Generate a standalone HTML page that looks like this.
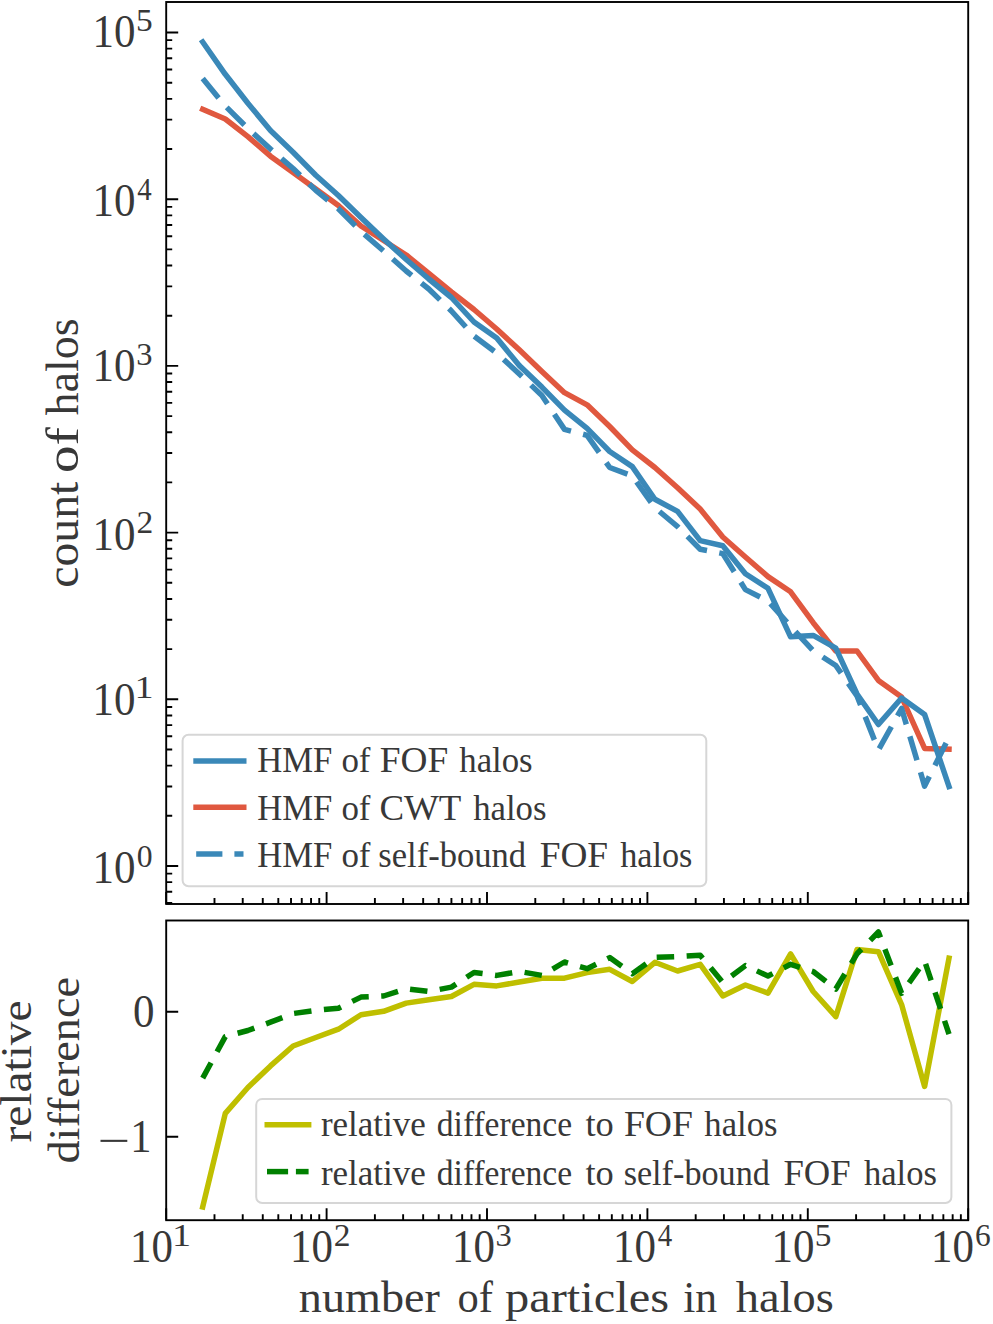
<!DOCTYPE html>
<html><head><meta charset="utf-8"><style>
html,body{margin:0;padding:0;background:#fff;}
svg{display:block;}
text{font-family:"Liberation Serif",serif;}
</style></head><body>
<svg width="993" height="1324" viewBox="0 0 993 1324">
<rect width="993" height="1324" fill="#fff"/>
<defs><clipPath id="ct"><rect x="166.2" y="2.0" width="802.0" height="902.0"/></clipPath><clipPath id="cb"><rect x="166.2" y="920.5" width="802.0" height="299.70000000000005"/></clipPath></defs><g clip-path="url(#ct)" fill="none" stroke-width="5.5" stroke-linejoin="round"><polyline points="202.7,109.4 225.3,119.0 247.9,136.6 270.5,156.2 293.1,172.5 315.8,189.0 338.4,205.5 361.0,226.0 383.6,240.5 406.2,255.0 428.8,273.5 451.4,292.0 474.0,309.5 496.7,329.0 519.3,349.8 541.9,371.5 564.5,392.7 587.1,404.8 609.7,426.5 632.3,449.8 654.9,467.5 677.6,487.8 700.2,509.0 722.8,537.0 745.4,557.0 768.0,576.6 790.6,591.8 813.2,622.7 835.8,651.0 857.0,651.0 878.4,680.4 901.6,697.0 924.6,748.4 949.0,749.2" stroke="#e0583f" stroke-linecap="square"/><polyline points="202.7,42.0 225.3,74.3 247.9,103.3 270.5,130.5 293.1,152.3 315.8,175.2 338.4,195.5 361.0,217.5 383.6,238.9 406.2,259.5 428.8,279.0 451.4,297.5 474.0,322.0 496.7,338.0 519.3,365.4 541.9,387.1 564.5,410.2 587.1,428.3 609.7,451.5 632.3,466.6 654.9,499.3 677.6,511.4 700.2,540.6 722.8,545.7 745.4,573.7 768.0,588.3 790.6,636.8 813.2,635.4 835.8,648.2 857.0,694.0 878.4,724.5 901.6,698.0 924.6,714.5 949.0,786.5" stroke="#3a88b8" stroke-linecap="square"/><polyline points="202.7,78.6 225.3,106.0 247.9,128.5 270.5,149.0 293.1,168.5 315.8,190.3 338.4,208.7 361.0,231.5 383.6,251.0 406.2,271.0 428.8,289.0 451.4,311.0 474.0,336.0 496.7,353.0 519.3,374.0 541.9,395.5 564.5,429.4 587.1,435.3 609.7,467.5 632.3,476.0 654.9,507.7 677.6,526.6 700.2,549.2 722.8,553.6 745.4,589.6 768.0,600.9 790.6,626.3 813.2,650.8 835.8,665.5 857.0,696.0 878.4,750.0 901.6,708.5 924.6,786.1 949.0,737.2" stroke="#3a88b8" stroke-dasharray="25 12.5"/></g><g clip-path="url(#cb)" fill="none" stroke-width="5.5" stroke-linejoin="round"><polyline points="202.7,1207.0 225.3,1113.4 247.9,1087.5 270.5,1065.9 293.1,1046.0 315.8,1037.5 338.4,1029.2 361.0,1014.8 383.6,1011.3 406.2,1003.1 428.8,999.8 451.4,996.5 474.0,984.3 496.7,985.9 519.3,982.0 541.9,978.2 564.5,978.2 587.1,972.6 609.7,969.3 632.3,981.5 654.9,962.3 677.6,971.0 700.2,964.3 722.8,995.9 745.4,985.0 768.0,993.1 790.6,953.8 813.2,991.5 835.8,1016.6 857.0,949.6 878.4,951.7 901.6,1004.6 924.6,1086.4 949.0,958.1" stroke="#bfbf00" stroke-linecap="square"/><polyline points="202.7,1078.1 225.3,1036.6 247.9,1030.5 270.5,1022.2 293.1,1013.5 315.8,1010.4 338.4,1008.2 361.0,997.1 383.6,996.0 406.2,988.7 428.8,991.5 451.4,987.1 474.0,972.5 496.7,975.4 519.3,971.5 541.9,975.4 564.5,962.0 587.1,968.7 609.7,957.6 632.3,973.7 654.9,957.4 677.6,956.6 700.2,955.2 722.8,982.6 745.4,965.6 768.0,976.0 790.6,964.3 813.2,971.5 835.8,989.0 857.0,953.8 878.4,932.0 901.6,993.3 924.6,960.9 949.0,1034.2" stroke="#008000" stroke-dasharray="17.5 12.5"/></g><path d="M166.20,904.0v-12 M214.49,904.0v-6 M242.73,904.0v-6 M262.77,904.0v-6 M278.31,904.0v-6 M291.02,904.0v-6 M301.75,904.0v-6 M311.06,904.0v-6 M319.26,904.0v-6 M326.60,904.0v-12 M374.89,904.0v-6 M403.13,904.0v-6 M423.17,904.0v-6 M438.71,904.0v-6 M451.42,904.0v-6 M462.15,904.0v-6 M471.46,904.0v-6 M479.66,904.0v-6 M487.00,904.0v-12 M535.29,904.0v-6 M563.53,904.0v-6 M583.57,904.0v-6 M599.11,904.0v-6 M611.82,904.0v-6 M622.55,904.0v-6 M631.86,904.0v-6 M640.06,904.0v-6 M647.40,904.0v-12 M695.69,904.0v-6 M723.93,904.0v-6 M743.97,904.0v-6 M759.51,904.0v-6 M772.22,904.0v-6 M782.95,904.0v-6 M792.26,904.0v-6 M800.46,904.0v-6 M807.80,904.0v-12 M856.09,904.0v-6 M884.33,904.0v-6 M904.37,904.0v-6 M919.91,904.0v-6 M932.62,904.0v-6 M943.35,904.0v-6 M952.66,904.0v-6 M960.86,904.0v-6 M968.20,904.0v-12 M166.20,1220.2v-12 M214.49,1220.2v-6 M242.73,1220.2v-6 M262.77,1220.2v-6 M278.31,1220.2v-6 M291.02,1220.2v-6 M301.75,1220.2v-6 M311.06,1220.2v-6 M319.26,1220.2v-6 M326.60,1220.2v-12 M374.89,1220.2v-6 M403.13,1220.2v-6 M423.17,1220.2v-6 M438.71,1220.2v-6 M451.42,1220.2v-6 M462.15,1220.2v-6 M471.46,1220.2v-6 M479.66,1220.2v-6 M487.00,1220.2v-12 M535.29,1220.2v-6 M563.53,1220.2v-6 M583.57,1220.2v-6 M599.11,1220.2v-6 M611.82,1220.2v-6 M622.55,1220.2v-6 M631.86,1220.2v-6 M640.06,1220.2v-6 M647.40,1220.2v-12 M695.69,1220.2v-6 M723.93,1220.2v-6 M743.97,1220.2v-6 M759.51,1220.2v-6 M772.22,1220.2v-6 M782.95,1220.2v-6 M792.26,1220.2v-6 M800.46,1220.2v-6 M807.80,1220.2v-12 M856.09,1220.2v-6 M884.33,1220.2v-6 M904.37,1220.2v-6 M919.91,1220.2v-6 M932.62,1220.2v-6 M943.35,1220.2v-6 M952.66,1220.2v-6 M960.86,1220.2v-6 M968.20,1220.2v-12 M166.2,902.98h6 M166.2,891.82h6 M166.2,882.15h6 M166.2,873.63h6 M166.2,866.00h12 M166.2,815.82h6 M166.2,786.46h6 M166.2,765.64h6 M166.2,749.48h6 M166.2,736.28h6 M166.2,725.12h6 M166.2,715.45h6 M166.2,706.93h6 M166.2,699.30h12 M166.2,649.12h6 M166.2,619.76h6 M166.2,598.94h6 M166.2,582.78h6 M166.2,569.58h6 M166.2,558.42h6 M166.2,548.75h6 M166.2,540.23h6 M166.2,532.60h12 M166.2,482.42h6 M166.2,453.06h6 M166.2,432.24h6 M166.2,416.08h6 M166.2,402.88h6 M166.2,391.72h6 M166.2,382.05h6 M166.2,373.53h6 M166.2,365.90h12 M166.2,315.72h6 M166.2,286.36h6 M166.2,265.54h6 M166.2,249.38h6 M166.2,236.18h6 M166.2,225.02h6 M166.2,215.35h6 M166.2,206.83h6 M166.2,199.20h12 M166.2,149.02h6 M166.2,119.66h6 M166.2,98.84h6 M166.2,82.68h6 M166.2,69.48h6 M166.2,58.32h6 M166.2,48.65h6 M166.2,40.13h6 M166.2,32.50h12 M166.2,1011.70h12 M166.2,1136.80h12" stroke="#000" stroke-width="1.9" fill="none"/><rect x="166.2" y="2.0" width="802.0" height="902.0" fill="none" stroke="#000" stroke-width="1.9"/><rect x="166.2" y="920.5" width="802.0" height="299.70000000000005" fill="none" stroke="#000" stroke-width="1.9"/><rect x="182.6" y="734.7" width="523.6999999999999" height="151.5" rx="6" ry="6" fill="#fff" fill-opacity="0.8" stroke="#d6d6d6" stroke-width="2"/><line x1="193.3" y1="760.9" x2="246.5" y2="760.9" stroke="#3a88b8" stroke-width="5.5"/><line x1="193.3" y1="807.2" x2="246.5" y2="807.2" stroke="#e0583f" stroke-width="5.5"/><line x1="196.2" y1="854" x2="222.4" y2="854" stroke="#3a88b8" stroke-width="5.5"/><line x1="234.4" y1="854" x2="243.5" y2="854" stroke="#3a88b8" stroke-width="5.5"/><rect x="256.2" y="1098.9" width="695.2" height="104.09999999999991" rx="6" ry="6" fill="#fff" fill-opacity="0.8" stroke="#d6d6d6" stroke-width="2"/><line x1="264.5" y1="1124.7" x2="311.4" y2="1124.7" stroke="#bfbf00" stroke-width="5.5"/><line x1="267" y1="1171.6" x2="288.1" y2="1171.6" stroke="#008000" stroke-width="5.5"/><line x1="295.9" y1="1171.6" x2="308.6" y2="1171.6" stroke="#008000" stroke-width="5.5"/><g font-family="Liberation Serif" fill="#383838"><text x="257.15" y="772.1" font-size="35.7" textLength="75.17" lengthAdjust="spacingAndGlyphs">HMF</text><text x="341.39" y="772.1" font-size="35.7" textLength="29.13" lengthAdjust="spacingAndGlyphs">of</text><text x="379.87" y="772.1" font-size="35.7" textLength="68.41" lengthAdjust="spacingAndGlyphs">FOF</text><text x="459.25" y="772.1" font-size="35.7" textLength="73.40" lengthAdjust="spacingAndGlyphs">halos</text><text x="257.15" y="820.4" font-size="35.7" textLength="75.17" lengthAdjust="spacingAndGlyphs">HMF</text><text x="341.39" y="820.4" font-size="35.7" textLength="29.13" lengthAdjust="spacingAndGlyphs">of</text><text x="379.42" y="820.4" font-size="35.7" textLength="81.99" lengthAdjust="spacingAndGlyphs">CWT</text><text x="473.15" y="820.4" font-size="35.7" textLength="73.40" lengthAdjust="spacingAndGlyphs">halos</text><text x="257.15" y="866.9" font-size="35.7" textLength="75.17" lengthAdjust="spacingAndGlyphs">HMF</text><text x="341.39" y="866.9" font-size="35.7" textLength="29.13" lengthAdjust="spacingAndGlyphs">of</text><text x="378.32" y="866.9" font-size="35.7" textLength="147.69" lengthAdjust="spacingAndGlyphs">self-bound</text><text x="539.67" y="866.9" font-size="35.7" textLength="68.41" lengthAdjust="spacingAndGlyphs">FOF</text><text x="620.26" y="866.9" font-size="35.7" textLength="72.17" lengthAdjust="spacingAndGlyphs">halos</text><text x="320.90" y="1136.1" font-size="35.7" textLength="104.86" lengthAdjust="spacingAndGlyphs">relative</text><text x="436.83" y="1136.1" font-size="35.7" textLength="135.22" lengthAdjust="spacingAndGlyphs">difference</text><text x="585.44" y="1136.1" font-size="35.7" textLength="28.34" lengthAdjust="spacingAndGlyphs">to</text><text x="623.97" y="1136.1" font-size="35.7" textLength="68.92" lengthAdjust="spacingAndGlyphs">FOF</text><text x="704.35" y="1136.1" font-size="35.7" textLength="73.09" lengthAdjust="spacingAndGlyphs">halos</text><text x="320.90" y="1184.5" font-size="35.7" textLength="104.86" lengthAdjust="spacingAndGlyphs">relative</text><text x="436.83" y="1184.5" font-size="35.7" textLength="135.22" lengthAdjust="spacingAndGlyphs">difference</text><text x="585.44" y="1184.5" font-size="35.7" textLength="28.34" lengthAdjust="spacingAndGlyphs">to</text><text x="623.63" y="1184.5" font-size="35.7" textLength="146.28" lengthAdjust="spacingAndGlyphs">self-bound</text><text x="783.49" y="1184.5" font-size="35.7" textLength="67.16" lengthAdjust="spacingAndGlyphs">FOF</text><text x="863.95" y="1184.5" font-size="35.7" textLength="72.99" lengthAdjust="spacingAndGlyphs">halos</text><text x="92.62" y="883.2" font-size="46.5" textLength="42.96" lengthAdjust="spacingAndGlyphs">10</text><text x="136.70" y="867.1" font-size="31.5" textLength="15.84" lengthAdjust="spacingAndGlyphs">0</text><text x="92.62" y="714.7" font-size="46.5" textLength="42.96" lengthAdjust="spacingAndGlyphs">10</text><text x="134.54" y="698.0" font-size="31.5" textLength="19.09" lengthAdjust="spacingAndGlyphs">1</text><text x="92.62" y="549.9" font-size="46.5" textLength="42.96" lengthAdjust="spacingAndGlyphs">10</text><text x="136.43" y="533.3" font-size="31.5" textLength="16.75" lengthAdjust="spacingAndGlyphs">2</text><text x="92.62" y="380.9" font-size="46.5" textLength="42.96" lengthAdjust="spacingAndGlyphs">10</text><text x="136.34" y="364.7" font-size="31.5" textLength="16.26" lengthAdjust="spacingAndGlyphs">3</text><text x="92.62" y="216.4" font-size="46.5" textLength="42.96" lengthAdjust="spacingAndGlyphs">10</text><text x="137.35" y="199.8" font-size="31.5" textLength="14.44" lengthAdjust="spacingAndGlyphs">4</text><text x="92.62" y="47.4" font-size="46.5" textLength="42.96" lengthAdjust="spacingAndGlyphs">10</text><text x="135.97" y="31.3" font-size="31.5" textLength="16.67" lengthAdjust="spacingAndGlyphs">5</text><text x="130.02" y="1261.7" font-size="46.5" textLength="42.96" lengthAdjust="spacingAndGlyphs">10</text><text x="171.94" y="1245.6" font-size="31.5" textLength="19.09" lengthAdjust="spacingAndGlyphs">1</text><text x="289.92" y="1261.7" font-size="46.5" textLength="42.96" lengthAdjust="spacingAndGlyphs">10</text><text x="333.73" y="1245.6" font-size="31.5" textLength="16.75" lengthAdjust="spacingAndGlyphs">2</text><text x="451.92" y="1261.7" font-size="46.5" textLength="42.96" lengthAdjust="spacingAndGlyphs">10</text><text x="495.64" y="1245.6" font-size="31.5" textLength="16.26" lengthAdjust="spacingAndGlyphs">3</text><text x="613.12" y="1261.7" font-size="46.5" textLength="42.96" lengthAdjust="spacingAndGlyphs">10</text><text x="657.85" y="1245.6" font-size="31.5" textLength="14.44" lengthAdjust="spacingAndGlyphs">4</text><text x="771.52" y="1261.7" font-size="46.5" textLength="42.96" lengthAdjust="spacingAndGlyphs">10</text><text x="814.87" y="1245.6" font-size="31.5" textLength="16.67" lengthAdjust="spacingAndGlyphs">5</text><text x="931.02" y="1261.7" font-size="46.5" textLength="42.96" lengthAdjust="spacingAndGlyphs">10</text><text x="974.95" y="1245.6" font-size="31.5" textLength="15.73" lengthAdjust="spacingAndGlyphs">6</text><text x="133.0" y="1027.3" font-size="46.5" text-anchor="start" textLength="21.5" lengthAdjust="spacingAndGlyphs" >0</text><rect x="100.5" y="1139.8" width="26.8" height="2.1"/><text x="130.26" y="1151.8" font-size="46.5" textLength="21.23" lengthAdjust="spacingAndGlyphs">1</text><text x="298.86" y="1312.3" font-size="45" textLength="140.97" lengthAdjust="spacingAndGlyphs">number</text><text x="457.61" y="1312.3" font-size="45" textLength="35.42" lengthAdjust="spacingAndGlyphs">of</text><text x="504.97" y="1312.3" font-size="45" textLength="164.03" lengthAdjust="spacingAndGlyphs">particles</text><text x="683.23" y="1312.3" font-size="45" textLength="33.94" lengthAdjust="spacingAndGlyphs">in</text><text x="735.84" y="1312.3" font-size="45" textLength="97.93" lengthAdjust="spacingAndGlyphs">halos</text><g transform="translate(77.6,0) rotate(-90)"><text x="-587.79" y="0" font-size="46" textLength="106.09" lengthAdjust="spacingAndGlyphs">count</text><text x="-473.07" y="0" font-size="46" textLength="45.89" lengthAdjust="spacingAndGlyphs">of</text><text x="-415.56" y="0" font-size="46" textLength="97.32" lengthAdjust="spacingAndGlyphs">halos</text></g><text transform="translate(31,1071.5) rotate(-90)" font-size="45" text-anchor="middle" textLength="142.2" lengthAdjust="spacingAndGlyphs">relative</text><text transform="translate(78.6,1070.3) rotate(-90)" font-size="45" text-anchor="middle" textLength="186.5" lengthAdjust="spacingAndGlyphs">difference</text></g>
</svg></body></html>
